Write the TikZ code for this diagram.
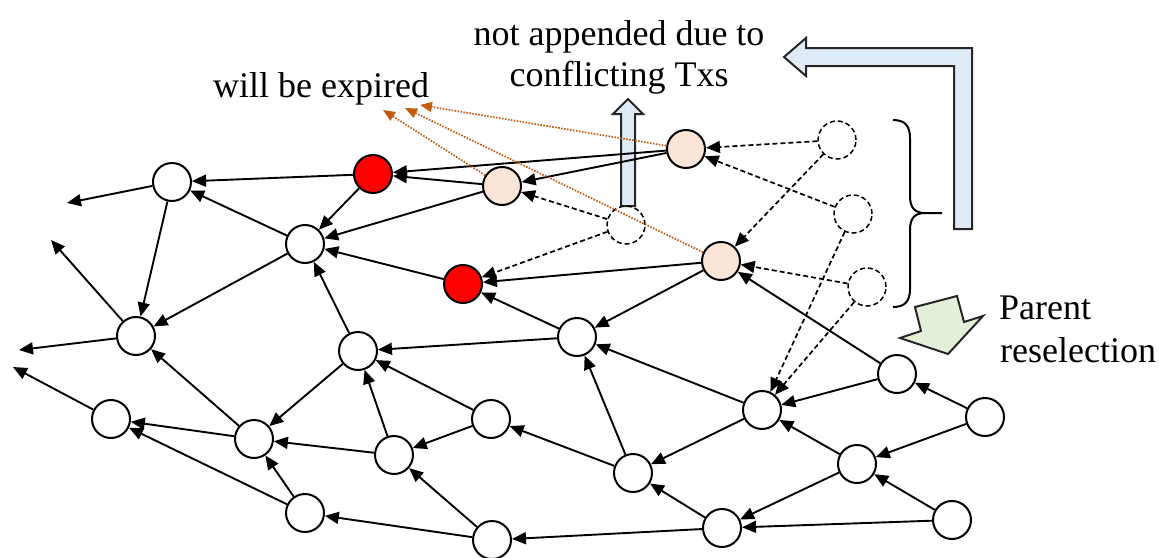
\documentclass[tikz,border=0pt]{standalone}
\usepackage{fontspec}
\setmainfont{Liberation Serif}
\usetikzlibrary{arrows.meta}
\definecolor{peach}{HTML}{FBE5D6}
\definecolor{paleblue}{HTML}{DEEBF7}
\definecolor{palegreen}{HTML}{E2F0D9}
\definecolor{rust}{HTML}{C55A11}
\begin{document}
\begin{tikzpicture}[x=1pt,y=-1pt,
  vertex/.style={circle,draw,line width=2pt,minimum size=38pt,inner sep=0pt,fill=white},
  expired/.style={vertex,fill=red},
  pending/.style={vertex,fill=peach},
  ghost/.style={circle,draw,line width=1.5pt,dash pattern=on 5pt off 3pt,minimum size=38pt,inner sep=0pt},
  edge/.style={line width=1.9pt,-{Triangle[length=14pt,width=12pt]}},
  dedge/.style={edge,line width=1.7pt,dash pattern=on 5pt off 3pt},
  oedge/.style={rust,line width=1.7pt,dash pattern=on 1.6pt off 1.4pt,-{Triangle[length=12pt,width=10pt]}},
  bigarrow/.style={line width=2pt,draw=black!85,line join=miter},
  label/.style={inner sep=0pt,font=\fontsize{36}{41}\selectfont}]
\useasboundingbox (0,0) rectangle (1159,557);

% hollow block arrows (behind the graph)
\draw[bigarrow,fill=paleblue] (621,206) -- (621,114) -- (613,114) -- (628,99) -- (643,114) -- (635,114) -- (635,206) -- cycle;
\draw[bigarrow,fill=paleblue] (954,229) -- (954,66) -- (806,66) -- (806,76) -- (784,57) -- (806,38) -- (806,48) -- (972,48) -- (972,229) -- cycle;
\draw[bigarrow,fill=palegreen] (915,307) -- (957,296) -- (964,322) -- (983,316) -- (948,354) -- (900,338) -- (921,331) -- cycle;

% curly brace grouping the new transactions
\draw[line width=2pt] (893,120) .. controls (905,120) and (910,126) .. (910,138) -- (910,196)
  .. controls (910,207) and (914,213) .. (925,213) -- (942,213);
\draw[line width=2pt] (925,213) .. controls (914,213) and (910,219) .. (910,230) -- (910,289)
  .. controls (910,301) and (905,307) .. (893,307);

% vertices
\node[vertex]  (A)  at (172,182) {};
\node[expired] (R1) at (373,174) {};
\node[vertex]  (B)  at (305,244) {};
\node[expired] (R2) at (463,284) {};
\node[pending] (P1) at (502,186) {};
\node[pending] (P2) at (686,149) {};
\node[pending] (P3) at (721,261) {};
\node[ghost]   (D1) at (626,225) {};
\node[ghost]   (D2) at (837,140) {};
\node[ghost]   (D3) at (853,214) {};
\node[ghost]   (D4) at (867,287) {};
\node[vertex]  (C)  at (136,336) {};
\node[vertex]  (E)  at (358,351) {};
\node[vertex]  (F)  at (577,337) {};
\node[vertex]  (G)  at (111,419) {};
\node[vertex]  (H)  at (254,439) {};
\node[vertex]  (I)  at (394,455) {};
\node[vertex]  (J)  at (491,419) {};
\node[vertex]  (K)  at (762,410) {};
\node[vertex]  (L)  at (897,374) {};
\node[vertex]  (M)  at (985,417) {};
\node[vertex]  (N)  at (857,464) {};
\node[vertex]  (O)  at (633,473) {};
\node[vertex]  (U)  at (305,513) {};
\node[vertex]  (Q)  at (492,540) {};
\node[vertex]  (S)  at (722,528) {};
\node[vertex]  (T)  at (952,520) {};

% loose ends leading out of the picture
\coordinate (fa)  at (67,203);
\coordinate (fc1) at (51,240);
\coordinate (fc2) at (19,350);
\coordinate (fg)  at (13,367);
\coordinate (x1)  at (383,110);
\coordinate (x2)  at (405,108);
\coordinate (x3)  at (420,105);

% approvals
\foreach \s/\t in {A/fa, R1/A, R1/B, B/A, A/C, B/C, C/fc1, C/fc2, E/B, P1/B, R2/B,
  P2/R1, P2/P1, P1/R1, P3/R2, P3/F, F/R2, L/P3, F/E, J/E, I/E, J/I, E/H, I/H,
  H/C, H/G, U/G, U/H, G/fg, Q/U, Q/I, S/Q, O/F, K/F, K/O, S/O, L/K, N/K, N/S,
  M/L, M/N, T/N, T/S, O/J}
  \draw[edge] (\s) -- (\t);

% tentative approvals
\foreach \s/\t in {D2/P2, D3/P2, D2/P3, D4/P3, D1/P1, D1/R2, D3/K, D4/K}
  \draw[dedge] (\s) -- (\t);

% expiry hints
\draw[oedge] (P2) -- (x3);
\draw[oedge] (P3) -- (x2);
\draw[oedge] (P1) -- (x1);

% labels
\node[label,anchor=base west] (lexp) at (213,97) {will be expired};
\node[label,anchor=base] (lna1) at (619,45) {not appended due to};
\node[label,anchor=base] (lna2) at (619,86) {conflicting Txs};
\node[label,anchor=base west] (lpr1) at (999,319) {Parent};
\node[label,anchor=base west] (lpr2) at (1000,362) {reselection};
\end{tikzpicture}
\end{document}
